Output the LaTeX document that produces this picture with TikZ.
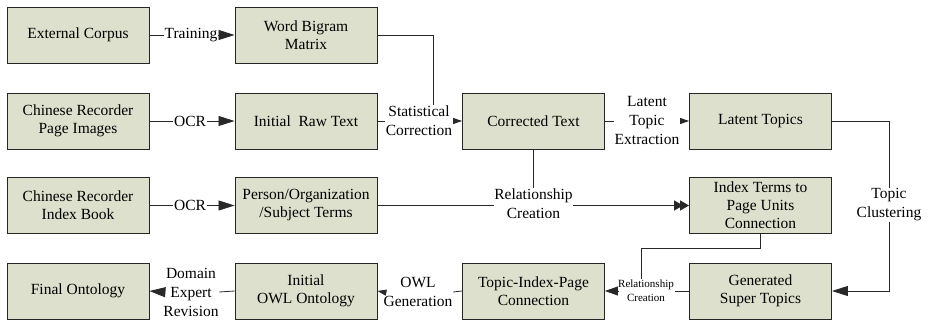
\documentclass[tikz,border=0pt]{standalone}
\usepackage{fontspec}
\setmainfont{Liberation Serif}
\newfontfamily\labelfont{Liberation Serif}
\usetikzlibrary{arrows.meta}
\definecolor{boxfill}{RGB}{221,224,204}
\definecolor{edgegray}{RGB}{40,40,40}
\begin{document}
\begin{tikzpicture}[x=1pt,y=-1pt,
  box/.style={draw=black!85, fill=boxfill, line width=0.9pt,
    minimum width=142pt, minimum height=56pt, inner sep=0pt,
    align=center, font=\labelfont\fontsize{15.5}{18}\selectfont},
  lbl/.style={inner sep=0.5pt, align=center, font=\labelfont\fontsize{15.5}{19}\selectfont},
  small/.style={inner sep=0.5pt, align=center, font=\labelfont\fontsize{11}{14}\selectfont},
  conn/.style={draw=edgegray, line width=0.8pt},
  bigtip/.style={conn, -{Triangle[length=16pt,width=10pt]}},
  midtip/.style={conn, -{Triangle[length=13pt,width=9pt]}},
  smalltip/.style={conn, -{Triangle[length=9pt,width=6pt]}},
  doubletip/.style={conn, line width=1.3pt,
    -{Triangle[length=9pt,width=10pt,sep=-3pt]Triangle[length=9pt,width=10pt]}},
]
\useasboundingbox (0,0) rectangle (930,321);

% boxes
\node[box] (ec)   at (78,35)    {External Corpus};
\node[box] (wbm)  at (306,35)   {Word Bigram\\Matrix};
\node[box] (pi)   at (78,121)   {Chinese Recorder\\Page Images};
\node[box] (raw)  at (306,121)  {Initial\enspace Raw Text};
\node[box] (ct)   at (533.5,121){Corrected Text};
\node[box] (lt)   at (760.5,121){Latent Topics};
\node[box] (ib)   at (78,205.5) {Chinese Recorder\\Index Book};
\node[box] (pos)  at (306,205.5){Person/Organization\\/Subject Terms};
\node[box] (itp)  at (760.5,205.5){Index Terms to\\Page Units\\Connection};
\node[box] (fo)   at (78,291)   {Final Ontology};
\node[box] (owl)  at (306,291)  {Initial\\OWL Ontology};
\node[box] (tip)  at (533.5,291){Topic-Index-Page\\Connection};
\node[box] (gst)  at (760.5,291){Generated\\Super Topics};

% connector labels
\node[lbl] (train) at (191,35)   {Training};
\node[lbl] (ocr1)  at (190,121)  {OCR};
\node[lbl] (ocr2)  at (190,205.5){OCR};
\node[lbl] (stat)  at (419,121)  {Statistical\\Correction};
\node[lbl] (lte)   at (647,121)  {Latent\\Topic\\Extraction};
\node[lbl] (rel)   at (533.5,204){Relationship\\Creation};
\node[lbl] (tc)    at (889,205)  {Topic\\Clustering};
\node[small] (rel2) at (646,291) {Relationship\\Creation};
\node[lbl] (owlg)  at (418,292)  {OWL\\Generation};
\node[lbl] (der)   at (191,292)  {Domain\\Expert\\Revision};

% bend points
\coordinate (sc)  at (433,121);
\coordinate (tcx) at (889,121);
\coordinate (jog) at (641,248);

% connectors
\draw[conn] (ec.east) -- (train.west);
\draw[bigtip] (train.east) -- (wbm.west);

\draw[conn] (pi.east) -- (ocr1.west);
\draw[bigtip] (ocr1.east) -- (raw.west);

\draw[conn] (ib.east) -- (ocr2.west);
\draw[bigtip] (ocr2.east) -- (pos.west);

\draw[conn] (wbm.east) -| (sc |- stat.north);
\draw[conn] (raw.east) -- (stat.west);
\draw[smalltip] (stat.east) -- (ct.west);

\draw[conn] (ct.east) -- (lte.west);
\draw[smalltip] (lte.east) -- (lt.west);

\draw[conn] (lt.east) -- (tcx) -- (tc.north);
\draw[bigtip] (tc.south) |- (gst.east);

\draw[conn] (ct.south) -- (rel.north);
\draw[conn] (pos.east) -- (pos.east -| rel.west);
\draw[doubletip] (rel.east |- itp.west) -- (itp.west);

\draw[conn] (itp.south) |- (jog) -- (jog |- rel2.north);
\draw[conn] (gst.west) -- (rel2.east);
\draw[midtip] (rel2.west) -- (tip.east);

\draw[conn] (tip.west) -- (owlg.east);
\draw[smalltip] (owlg.west) -- (owl.east);

\draw[conn] (owl.west) -- (der.east);
\draw[bigtip] (der.west) -- (fo.east);
\end{tikzpicture}
\end{document}
